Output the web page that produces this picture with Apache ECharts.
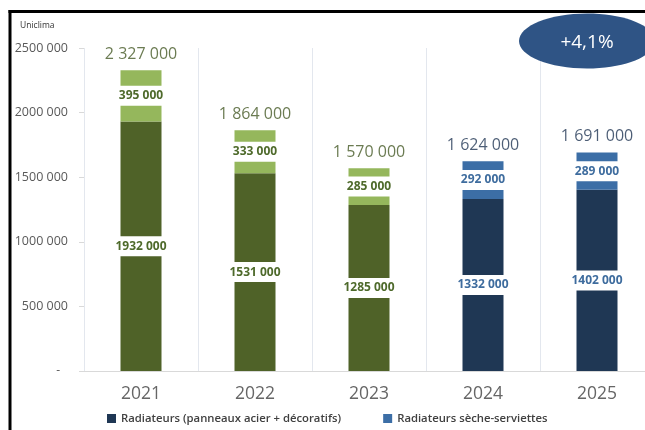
<!DOCTYPE html>
<html>
<head>
<meta charset="utf-8">
<script src="https://cdn.jsdelivr.net/npm/echarts@6/dist/echarts.min.js"></script>
<style>
html,body{margin:0;padding:0;background:#fff;overflow:hidden;width:645px;height:430px;}
#c{width:654px;height:430px;}
</style>
</head>
<body>
<div id="c"></div>
<script>
const years = ['2021', '2022', '2023', '2024', '2025'];
const radiateurs = [1932000, 1531000, 1285000, 1332000, 1402000];
const secheServiettes = [395000, 333000, 285000, 292000, 289000];
const totals = [2327000, 1864000, 1570000, 1624000, 1691000];
const yTicks = [0, 500000, 1000000, 1500000, 2000000, 2500000];
const seriesNames = ['Radiateurs (panneaux acier + décoratifs)', 'Radiateurs sèche-serviettes'];
const growthLabel = '+4,1%';
const sourceLabel = 'Uniclima';

const FONT = '"Open Sans", "Noto Sans", sans-serif';
const C = {
  darkGreen: '#4F6228', lightGreen: '#95B75C', greenText: '#4E6A2B', greenTotal: '#465A27',
  navy: '#1F3754', blue: '#3C6EA6', blueText: '#3E6C9E', navyTotal: '#1F3552'
};
const isGreen = i => i < 3;

function fmtSeg(v) {
  const k = Math.floor(v / 1000);
  const r = String(v % 1000).padStart(3, '0');
  return k + ' ' + r;
}
function fmtTotal(v) {
  return String(v).replace(/\B(?=(\d{3})+(?!\d))/g, ' ');
}

const chart = echarts.init(document.getElementById('c'));
const segLabel = (i) => ({
  show: true, position: 'inside', formatter: p => fmtSeg(p.value),
  color: isGreen(i) ? C.greenText : C.blueText, fontFamily: FONT, fontSize: 12, fontWeight: 'bold',
  backgroundColor: '#fff', padding: [4, 2, 4, 2]
});

chart.setOption({
  animation: false,
  backgroundColor: '#fff',
  grid: { left: 84, right: 0, top: 48, bottom: 59, containLabel: false },
  legend: {
    data: seriesNames, left: 102, top: 408, itemWidth: 9, itemHeight: 9, itemGap: 42,
    icon: 'rect',
    textStyle: { fontFamily: FONT, fontSize: 11.3, fontWeight: 600, color: '#404040' }
  },
  xAxis: {
    type: 'category', data: years,
    axisLine: { show: true, lineStyle: { color: '#D9D9D9' } },
    axisTick: { show: false },
    splitLine: { show: true, lineStyle: { color: '#E3E7EE', width: 1 } },
    axisLabel: { fontFamily: FONT, fontSize: 17.5, color: '#666666', margin: 14 }
  },
  yAxis: {
    type: 'value', min: 0, max: 2500000, interval: 500000,
    axisLine: { show: false },
    axisTick: { show: true, length: 5, lineStyle: { color: '#D9D9D9' } },
    splitLine: { show: false },
    axisLabel: {
      fontFamily: FONT, fontSize: 12.5, color: '#595959', margin: 16,
      formatter: v => v === 0 ? '{z|-}' : fmtSeg(v),
      rich: { z: { padding: [0, 8, 0, 0], fontFamily: FONT, fontSize: 12, color: '#595959' } }
    }
  },
  series: [
    {
      name: seriesNames[0], type: 'bar', stack: 'total', barWidth: 41,
      itemStyle: { color: C.navy },
      data: radiateurs.map((v, i) => ({
        value: v,
        itemStyle: { color: isGreen(i) ? C.darkGreen : C.navy },
        label: segLabel(i)
      }))
    },
    {
      name: seriesNames[1], type: 'bar', stack: 'total', barWidth: 41,
      itemStyle: { color: C.blue },
      data: secheServiettes.map((v, i) => ({
        value: v,
        itemStyle: { color: isGreen(i) ? C.lightGreen : C.blue },
        label: segLabel(i)
      }))
    },
    {
      name: 'Total', type: 'scatter', symbolSize: 0, silent: true,
      data: totals.map((v, i) => ({
        value: v,
        label: {
          show: true, position: 'top', distance: 8, formatter: p => fmtTotal(p.value),
          fontFamily: FONT, fontSize: 16, color: isGreen(i) ? C.greenTotal : C.navyTotal
        }
      }))
    }
  ],
  graphic: [
    { type: 'rect', shape: { x: 8.5, y: 10, width: 650, height: 3 }, style: { fill: '#000' }, z: 100 },
    { type: 'rect', shape: { x: 8.5, y: 10, width: 3, height: 425 }, style: { fill: '#000' }, z: 100 },
    { type: 'text', left: 20, top: 21, style: { text: sourceLabel, fontFamily: FONT, fontSize: 8.5, fill: '#333' }, z: 100 },
    { type: 'ellipse', shape: { cx: 587, cy: 41, rx: 68, ry: 27.5 }, style: { fill: '#2F5485' }, z: 100 },
    { type: 'text', x: 587, y: 43, style: { text: growthLabel, fontFamily: FONT, fontSize: 19, fill: '#fff', align: 'center', verticalAlign: 'middle' }, z: 101 }
  ]
});
</script>
</body>
</html>
